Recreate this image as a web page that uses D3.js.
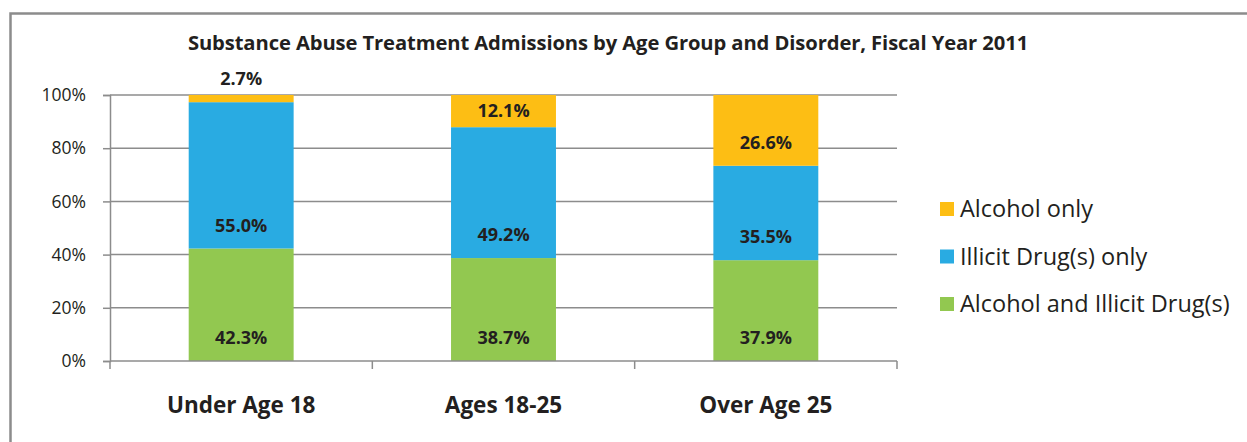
<!DOCTYPE html>
<html><head><meta charset="utf-8">
<script src="https://cdn.jsdelivr.net/npm/d3@7"></script>
<style>body{margin:0;background:#fff}svg{display:block}text{font-family:"Open Sans","Noto Sans",sans-serif;fill:#231f20}</style>
</head><body><svg id="c" width="1247" height="442"></svg>
<script>
const title = "Substance Abuse Treatment Admissions by Age Group and Disorder, Fiscal Year 2011";
const categories = ["Under Age 18", "Ages 18-25", "Over Age 25"];
const seriesNames = ["Alcohol and Illicit Drug(s)", "Illicit Drug(s) only", "Alcohol only"];
const comboValues = [42.3, 38.7, 37.9];
const illicitValues = [55.0, 49.2, 35.5];
const alcoholValues = [2.7, 12.1, 26.6];
const yTicks = [0, 20, 40, 60, 80, 100];
const colors = ["#92c850", "#29abe2", "#fdbe14"];

const svg = d3.select("#c");
const W = 1247, H = 442;
svg.append("path").attr("d", `M10.5,${H+2} V13.5 H${W+2}`).attr("fill","none").attr("stroke","#8c8c8c").attr("stroke-width",2.5);

const m = {l:110, r:897, t:95, b:361};
const x = d3.scaleBand().domain(categories).range([m.l, m.r]).padding(0);
const y = d3.scaleLinear().domain([0,100]).range([m.b, m.t]);

svg.append("text").attr("x", 608).attr("y", 50).attr("text-anchor","middle")
  .attr("font-weight","bold").attr("font-size",20.2).attr("letter-spacing",-0.1).text(title);

svg.append("g").selectAll("line").data(yTicks.filter(d=>d>0)).join("line")
  .attr("x1", m.l).attr("x2", m.r).attr("y1", d=>y(d)).attr("y2", d=>y(d))
  .attr("stroke","#8c8c8c").attr("stroke-width",1.5);

const yAxis = svg.append("g").attr("transform",`translate(${m.l},0)`)
  .call(d3.axisLeft(y).tickValues(yTicks).tickFormat(d=>d+"%").tickSize(7).tickPadding(17));
yAxis.select(".domain").attr("stroke","#8c8c8c").attr("stroke-width",1.5);
yAxis.selectAll(".tick line").attr("stroke","#8c8c8c").attr("stroke-width",1.5);
yAxis.selectAll("text").attr("font-size",17.5).attr("font-family",null).attr("fill","#231f20");

const rows = categories.map((c,i)=>({cat:c, combo:comboValues[i], illicit:illicitValues[i], alcohol:alcoholValues[i]}));
const stack = d3.stack().keys(["combo","illicit","alcohol"])(rows);
const bw = x.bandwidth()*0.4;
const g = svg.append("g");
stack.forEach((layer,li)=>{
  g.append("g").selectAll("rect").data(layer).join("rect")
    .attr("x", d=>x(d.data.cat)+x.bandwidth()/2-bw/2).attr("width", bw)
    .attr("y", d=>y(d[1])).attr("height", d=>y(d[0])-y(d[1]))
    .attr("fill", colors[li]);
});

const xAxis = svg.append("g").attr("transform",`translate(0,${m.b})`);
xAxis.append("line").attr("x1",m.l).attr("x2",m.r).attr("stroke","#8c8c8c").attr("stroke-width",1.5);
const bounds = [m.l, ...categories.map(c=>x(c)+x.bandwidth())];
xAxis.selectAll(".tk").data(bounds).join("line").attr("x1",d=>d).attr("x2",d=>d).attr("y1",0).attr("y2",8)
  .attr("stroke","#8c8c8c").attr("stroke-width",1.5);
xAxis.selectAll("text").data(categories).join("text")
  .attr("x", d=>x(d)+x.bandwidth()/2).attr("y", 52).attr("text-anchor","middle")
  .attr("font-weight","bold").attr("font-size",22.5).text(d=>d);

stack.forEach((layer,li)=>{
  g.append("g").selectAll("text").data(layer).join("text")
    .attr("x", d=>x(d.data.cat)+x.bandwidth()/2)
    .attr("y", d=>{
      const h = y(d[0])-y(d[1]);
      if (h < 20) return y(d[1]) - 16;
      return y(d[0]) - Math.min(23, h/2);
    })
    .attr("dy","0.35em").attr("text-anchor","middle").attr("font-weight","bold").attr("font-size",18)
    .text(d=>(d[1]-d[0]).toFixed(1)+"%");
});

const legOrder = [2,1,0];
const leg = svg.append("g");
legOrder.forEach((si,i)=>{
  const cy = 209 + i*47.5;
  leg.append("rect").attr("x",940).attr("y",cy-7).attr("width",14).attr("height",14).attr("fill",colors[si]);
  leg.append("text").attr("x",960).attr("y",cy).attr("dy","0.35em").attr("font-size",23.5).text(seriesNames[si]);
});
</script></body></html>
